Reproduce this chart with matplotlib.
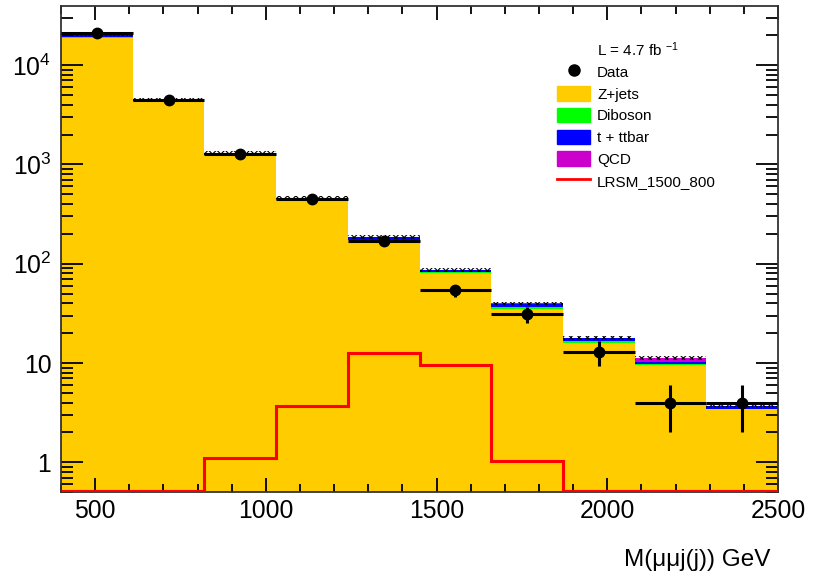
#!/usr/bin/env python3

## Stacked background histograms + data + LRSM signal, log y axis

import numpy as np
import matplotlib
matplotlib.use('Agg')
import matplotlib.pyplot as plt
from matplotlib.lines import Line2D
from matplotlib.patches import Patch
from matplotlib.ticker import FixedLocator, LogLocator, NullFormatter, FuncFormatter

plt.rcParams['font.family'] = ['Liberation Sans', 'DejaVu Sans']
plt.rcParams['mathtext.fontset'] = 'custom'
plt.rcParams['mathtext.rm'] = 'Liberation Sans'
plt.rcParams['mathtext.it'] = 'Liberation Sans:italic'
plt.rcParams['mathtext.default'] = 'regular'
plt.rcParams['hatch.linewidth'] = 0.8

# binning (GeV)
edges = [400, 610, 820, 1030, 1240, 1450, 1660, 1870, 2080, 2290, 2500]

# backgrounds (events per bin)
zjets   = [18900, 4250, 1240, 440, 172, 80, 35, 16.0, 9.6, 3.4]
diboson = [200, 60, 20, 10, 3.0, 2.5, 1.2, 0.5, 0.2, 0.02]
ttbar   = [1300, 190, 40, 8, 10, 4.0, 3.5, 1.2, 0.3, 0.25]
qcd     = [50, 3, 1, 0.5, 0.5, 0.1, 0.1, 0.05, 1.1, 0.0]
mc_err  = [0.05, 0.04, 0.04, 0.04, 0.04, 0.04, 0.04, 0.04, 0.04, 0.04]  # relative MC uncertainty

# data
data = [21200, 4430, 1260, 451, 171, 54, 31, 13, 4, 4]

# signal LRSM_1500_800
signal = [0, 0, 1.1, 3.7, 12.5, 9.5, 1.02, 0, 0, 0]

ymin, ymax = 0.5, 3.95e4

edges = np.array(edges, dtype=float)
centers = 0.5 * (edges[1:] + edges[:-1])
widths = np.diff(edges)

fig = plt.figure(figsize=(8.13, 5.86), dpi=100)
ax = fig.add_axes([0.075, 0.160, 0.882, 0.830])
ax.set_yscale('log')

## stack
colours = ['#FFCC00', '#00FF00', '#0000FF', '#CC00CC']
bottom = np.full(len(zjets), ymin * 0.1)
for vals, col in zip([zjets, diboson, ttbar, qcd], colours):
    vals = np.array(vals, dtype=float)
    top = bottom + vals
    ax.stairs(top, edges, baseline=bottom, fill=True, color=col, lw=0)
    bottom = top

## MC uncertainty band (hatched)
mc_tot = bottom
err = np.array(mc_err) * mc_tot
ax.bar(edges[:-1], 2 * err, width=widths, bottom=mc_tot - err, align='edge',
       fill=False, hatch='xxxx', edgecolor='black', lw=0)

## signal
ax.stairs(np.clip(signal, ymin * 1.02, None), edges, baseline=None, color='#FF0000', lw=2.2,
          zorder=4)

## data
data = np.array(data, dtype=float)
ax.errorbar(centers, data, xerr=widths / 2, yerr=np.sqrt(data), fmt='o', color='black',
            ms=7.5, elinewidth=2.2, capsize=0, zorder=5)

## axes
ax.set_xlim(edges[0], edges[-1])
ax.set_ylim(ymin, ymax)
ax.xaxis.set_major_locator(FixedLocator([500, 1000, 1500, 2000, 2500]))
ax.xaxis.set_minor_locator(FixedLocator(np.arange(400, 2501, 100)))
ax.yaxis.set_major_locator(LogLocator(base=10, numticks=10))
ax.yaxis.set_minor_locator(LogLocator(base=10, subs=np.arange(2, 10), numticks=20))
ax.yaxis.set_minor_formatter(NullFormatter())

def ylab(v, pos):
    e = int(round(np.log10(v)))
    if e == 0:
        return '1'
    if e == 1:
        return '10'
    return r'$10^{%d}$' % e
ax.yaxis.set_major_formatter(FuncFormatter(ylab))

ax.tick_params(axis='both', which='both', direction='in', top=True, right=True,
               width=1.3, labelsize=17.8, colors='black')
ax.tick_params(axis='x', which='major', length=10, pad=5)
ax.tick_params(axis='x', which='minor', length=6)
ax.tick_params(axis='y', which='major', length=16, pad=7)
ax.tick_params(axis='y', which='minor', length=8.5)
for s in ax.spines.values():
    s.set_linewidth(1.3)
    s.set_color('#333333')

fig.text(770 / 813, 1 - 560 / 586, 'M(\u03bc\u03bcj(j)) GeV', ha='right', va='center', fontsize=17.5)

## legend
handles = [Line2D([], [], marker='o', color='black', ls='none', ms=8),
           Patch(facecolor='#FFCC00', edgecolor='#FFCC00'),
           Patch(facecolor='#00FF00', edgecolor='#00FF00'),
           Patch(facecolor='#0000FF', edgecolor='#0000FF'),
           Patch(facecolor='#CC00CC', edgecolor='#CC00CC'),
           Line2D([], [], color='#FF0000', lw=2)]
labels = ['Data', 'Z+jets', 'Diboson', 't + ttbar', 'QCD', 'LRSM_1500_800']
ax.legend(handles, labels, loc='upper left', bbox_to_anchor=(0.692, 0.880), frameon=False,
          fontsize=11, handlelength=2.15, handleheight=1.1, handletextpad=0.46,
          labelspacing=0.41, borderpad=0, borderaxespad=0)
ax.text((597 - 61) / 717, (492 - 50) / 486, r'L = 4.7 fb $^{-1}$', transform=ax.transAxes,
        fontsize=11, ha='left', va='center')

fig.savefig('out.png', dpi=100)
